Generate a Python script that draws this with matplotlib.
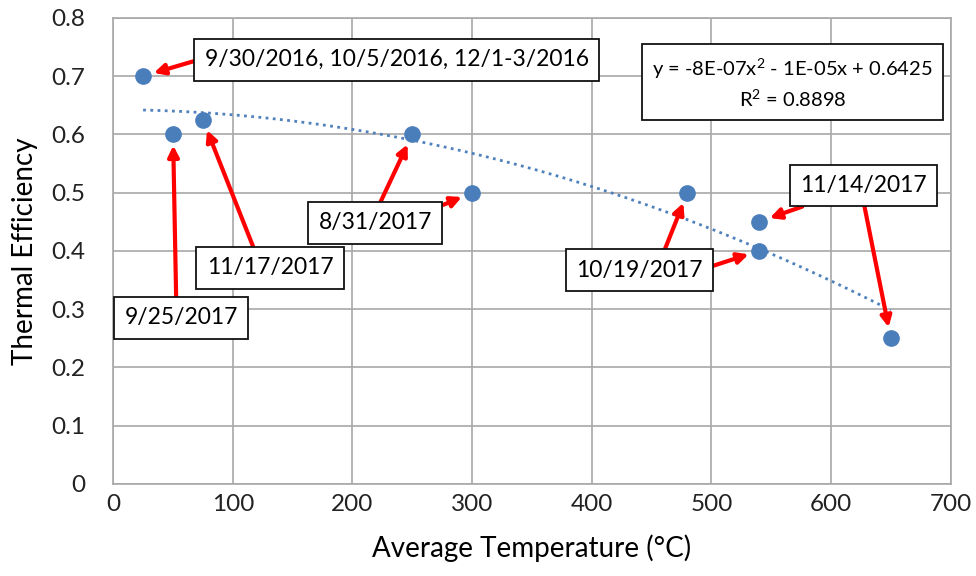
import numpy as np
import matplotlib
matplotlib.use('Agg')
import matplotlib.pyplot as plt

plt.rcParams['font.family'] = ['Lato', 'DejaVu Sans']
plt.rcParams['mathtext.default'] = 'regular'

# datos
temp = [25, 50, 75, 250, 300, 480, 540, 540, 650]
eff = [0.70, 0.60, 0.625, 0.60, 0.50, 0.50, 0.45, 0.40, 0.25]

# coeficientes de la linea de tendencia (del texto del grafico)
coef = [-8e-07, -1e-05, 0.6425]
r2 = 0.8898

etiquetas = ['9/30/2016, 10/5/2016, 12/1-3/2016', '9/25/2017', '11/17/2017',
             '8/31/2017', '10/19/2017', '11/14/2017']
pos_etiquetas = [(237, 0.728), (57, 0.285), (131, 0.371),
                 (219, 0.448), (440, 0.367), (627, 0.512)]
# (inicio de flecha, indice del punto)
flechas = [((68, 0.726), 0), ((52.6, 0.321), 1), ((117, 0.407), 2),
           ((223, 0.482), 3), ((276, 0.479), 4),
           ((461, 0.402), 5), ((501, 0.374), 7),
           ((576, 0.476), 6), ((628, 0.476), 8)]

fig = plt.figure(figsize=(9.76, 5.76), dpi=100)
ax = fig.add_axes([0.116, 0.160, 0.858, 0.809])

ax.set_xlim(0, 700)
ax.set_ylim(0, 0.8)
ax.set_xticks(np.arange(0, 701, 100))
ax.set_yticks(np.arange(0, 0.81, 0.1))
ax.set_yticklabels(['0', '0.1', '0.2', '0.3', '0.4', '0.5', '0.6', '0.7', '0.8'])
ax.grid(True, color='#a8a8a8', lw=1.2)
ax.set_axisbelow(True)
for s in ax.spines.values():
    s.set_color('#a8a8a8')
    s.set_linewidth(1.2)
ax.tick_params(length=0, labelsize=17.5, colors='#222222')
ax.tick_params(axis='y', pad=20)
ax.tick_params(axis='x', pad=7)

# linea de tendencia
xt = np.linspace(min(temp), max(temp), 200)
ax.plot(xt, np.polyval(coef, xt), ls=(0, (1, 1.6)), color='#4F81BD', lw=2)

ax.plot(temp, eff, 'o', color='#4A7EBB', ms=11, zorder=3)

for inicio, i in flechas:
    ax.annotate('', xy=(temp[i], eff[i]), xytext=inicio,
                arrowprops=dict(arrowstyle='-|>', color='#FF0000', lw=3,
                                mutation_scale=16, shrinkA=0, shrinkB=8),
                zorder=4)

caja = dict(boxstyle='square,pad=0.45', fc='white', ec='#111111', lw=1.3)
for txt, (x, y) in zip(etiquetas, pos_etiquetas):
    ax.text(x, y, txt, ha='center', va='center', fontsize=16.5, bbox=caja, zorder=5)

ax.text(568, 0.688, 'y = -8E-07x$^{2}$ - 1E-05x + 0.6425\nR$^{2}$ = %.4f' % r2,
        ha='center', va='center', fontsize=14.5,
        bbox=dict(boxstyle='square,pad=0.5', fc='white', ec='#111111', lw=1.3),
        zorder=5, linespacing=1.4)

ax.set_xlabel('Average Temperature (°C)', fontsize=20)
ax.set_ylabel('Thermal Efficiency', fontsize=20)
ax.xaxis.set_label_coords(0.5, -0.109)
ax.yaxis.set_label_coords(-0.09, 0.5)

fig.savefig('out.png', dpi=100)
